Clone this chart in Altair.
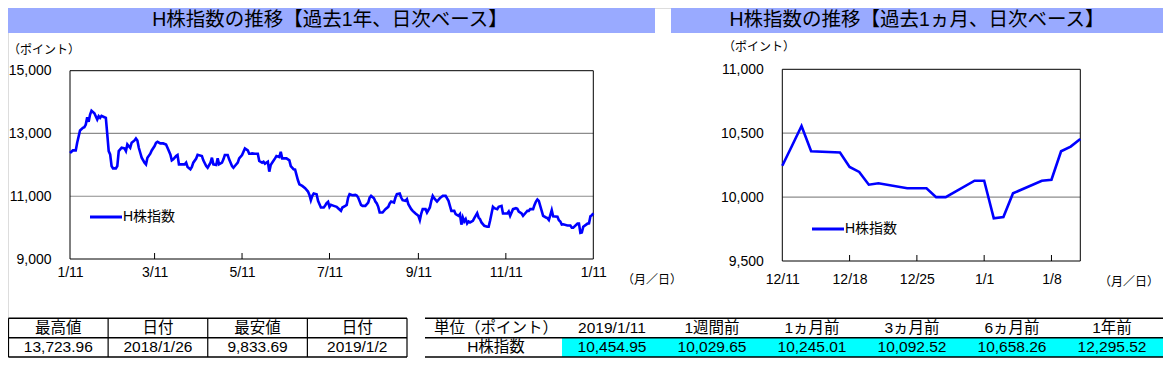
import altair as alt
import pandas as pd

# ---------------- data ----------------
dates = [
    "2018-01-11", "2018-01-13", "2018-01-15", "2018-01-16", "2018-01-18", "2018-01-20", "2018-01-21",
    "2018-01-22", "2018-01-23", "2018-01-24", "2018-01-25", "2018-01-26", "2018-01-28", "2018-01-30",
    "2018-01-31", "2018-02-01", "2018-02-02", "2018-02-04", "2018-02-05", "2018-02-06", "2018-02-07",
    "2018-02-08", "2018-02-09", "2018-02-10", "2018-02-12", "2018-02-13", "2018-02-14", "2018-02-16",
    "2018-02-18", "2018-02-19", "2018-02-20", "2018-02-22", "2018-02-23", "2018-02-25", "2018-02-26",
    "2018-02-27", "2018-02-28", "2018-03-01", "2018-03-02", "2018-03-04", "2018-03-05", "2018-03-06",
    "2018-03-08", "2018-03-09", "2018-03-11", "2018-03-12", "2018-03-13", "2018-03-15", "2018-03-17",
    "2018-03-19", "2018-03-20", "2018-03-22", "2018-03-23", "2018-03-24", "2018-03-26", "2018-03-27",
    "2018-03-28", "2018-03-30", "2018-04-01", "2018-04-02", "2018-04-03", "2018-04-05", "2018-04-06",
    "2018-04-07", "2018-04-09", "2018-04-10", "2018-04-13", "2018-04-14", "2018-04-16", "2018-04-17",
    "2018-04-19", "2018-04-20", "2018-04-21", "2018-04-23", "2018-04-24", "2018-04-25", "2018-04-27",
    "2018-04-28", "2018-04-29", "2018-05-01", "2018-05-02", "2018-05-04", "2018-05-05", "2018-05-06",
    "2018-05-08", "2018-05-09", "2018-05-11", "2018-05-12", "2018-05-13", "2018-05-15", "2018-05-16",
    "2018-05-17", "2018-05-18", "2018-05-20", "2018-05-22", "2018-05-23", "2018-05-25", "2018-05-26",
    "2018-05-27", "2018-05-29", "2018-05-30", "2018-05-31", "2018-06-01", "2018-06-03", "2018-06-04",
    "2018-06-06", "2018-06-07", "2018-06-08", "2018-06-09", "2018-06-11", "2018-06-13", "2018-06-14",
    "2018-06-16", "2018-06-17", "2018-06-19", "2018-06-20", "2018-06-22", "2018-06-24", "2018-06-26",
    "2018-06-27", "2018-06-28", "2018-06-29", "2018-06-30", "2018-07-02", "2018-07-03", "2018-07-05",
    "2018-07-07", "2018-07-08", "2018-07-09", "2018-07-10", "2018-07-11", "2018-07-12", "2018-07-14",
    "2018-07-16", "2018-07-17", "2018-07-19", "2018-07-20", "2018-07-22", "2018-07-23", "2018-07-24",
    "2018-07-25", "2018-07-27", "2018-07-29", "2018-07-30", "2018-07-31", "2018-08-02", "2018-08-03",
    "2018-08-05", "2018-08-07", "2018-08-08", "2018-08-09", "2018-08-11", "2018-08-12", "2018-08-13",
    "2018-08-14", "2018-08-15", "2018-08-17", "2018-08-19", "2018-08-21", "2018-08-22", "2018-08-23",
    "2018-08-25", "2018-08-26", "2018-08-27", "2018-08-29", "2018-08-30", "2018-08-31", "2018-09-02",
    "2018-09-03", "2018-09-04", "2018-09-06", "2018-09-07", "2018-09-09", "2018-09-11", "2018-09-12",
    "2018-09-13", "2018-09-14", "2018-09-16", "2018-09-17", "2018-09-19", "2018-09-20", "2018-09-21",
    "2018-09-22", "2018-09-24", "2018-09-26", "2018-09-27", "2018-09-28", "2018-09-30", "2018-10-02",
    "2018-10-03", "2018-10-04", "2018-10-06", "2018-10-07", "2018-10-09", "2018-10-10", "2018-10-11",
    "2018-10-12", "2018-10-13", "2018-10-14", "2018-10-15", "2018-10-16", "2018-10-17", "2018-10-19",
    "2018-10-20", "2018-10-22", "2018-10-23", "2018-10-24", "2018-10-25", "2018-10-27", "2018-10-29",
    "2018-10-30", "2018-10-31", "2018-11-02", "2018-11-03", "2018-11-05", "2018-11-06", "2018-11-08",
    "2018-11-09", "2018-11-11", "2018-11-12", "2018-11-13", "2018-11-14", "2018-11-16", "2018-11-18",
    "2018-11-19", "2018-11-20", "2018-11-22", "2018-11-23", "2018-11-25", "2018-11-26", "2018-11-27",
    "2018-11-28", "2018-11-30", "2018-12-01", "2018-12-02", "2018-12-03", "2018-12-04", "2018-12-06",
    "2018-12-07", "2018-12-09", "2018-12-10", "2018-12-11", "2018-12-12", "2018-12-13", "2018-12-14",
    "2018-12-17", "2018-12-18", "2018-12-19", "2018-12-20", "2018-12-21", "2018-12-24", "2018-12-25",
    "2018-12-26", "2018-12-27", "2018-12-28", "2018-12-31", "2019-01-01", "2019-01-02", "2019-01-03",
    "2019-01-04", "2019-01-07", "2019-01-08", "2019-01-09", "2019-01-10", "2019-01-11",
]
values = [
    12380, 12460, 12460, 12704, 13095, 13180, 13201,
    13286, 13518, 13370, 13603, 13724, 13645, 13444,
    13550, 13497, 13561, 13518, 13497, 12968, 12439,
    12333, 11963, 11889, 11889, 11963, 12439, 12545,
    12524, 12439, 12651, 12545, 12704, 12778, 12841,
    12778, 12545, 12386, 12228, 12069, 12016, 12228,
    12355, 12460, 12598, 12704, 12736, 12683, 12683,
    12651, 12545, 12333, 12143, 12175, 12281, 12312,
    12016, 12016, 12016, 12069, 11931, 11857, 11931,
    12069, 12200, 12320, 12281, 12143, 11963, 11910,
    12069, 12228, 12016, 11995, 12207, 12016, 12069,
    12175, 12312, 12312, 12175, 11963, 11910, 11963,
    12069, 12207, 12312, 12418, 12524, 12460, 12355,
    12355, 12365, 12355, 12355, 12122, 12069, 12101,
    12037, 12101, 11783, 11995, 12069, 12207, 12281,
    12249, 12418, 12207, 12207, 12207, 12143, 11963,
    11857, 11847, 11508, 11381, 11328, 11254, 11149,
    11043, 10873, 11011, 11085, 11064, 10852, 10641,
    10641, 10704, 10780, 10820, 10658, 10725, 10693,
    10662, 10619, 10535, 10641, 10693, 10725, 10958,
    11064, 11032, 11043, 11021, 10958, 10725, 10693,
    10693, 10799, 10958, 11011, 10937, 10831, 10768,
    10662, 10482, 10482, 10588, 10662, 10768, 10831,
    10799, 10958, 11064, 11085, 10958, 10873, 10852,
    10905, 10746, 10588, 10535, 10450, 10376, 10239,
    10450, 10588, 10588, 10482, 10641, 10852, 11011,
    10937, 10831, 10937, 10979, 11011, 11011, 10852,
    10693, 10535, 10535, 10429, 10376, 10429, 10093,
    10323, 10196, 10270, 10133, 10196, 10165, 10217,
    10302, 10461, 10323, 10270, 10165, 10059, 10027,
    10027, 10217, 10662, 10619, 10588, 10662, 10693,
    10450, 10450, 10450, 10514, 10376, 10588, 10619,
    10598, 10514, 10450, 10376, 10482, 10535, 10535,
    10588, 10588, 10725, 10831, 10895, 10852, 10535,
    10376, 10323, 10302, 10245, 10400, 10556, 10359,
    10349, 10236, 10197, 10097, 10108, 10069, 10069,
    10069, 10000, 10000, 10128, 10128, 9834, 9844,
    10030, 10128, 10136, 10359, 10395, 10455,
]
series_name = "H株指数"

year_ticks = ["2018-01-11", "2018-03-11", "2018-05-11", "2018-07-11", "2018-09-11", "2018-11-11", "2019-01-11"]
year_inner_ticks = ["2018-03-11", "2018-05-11", "2018-07-11", "2018-09-11", "2018-11-11"]
year_y_ticks = [9000, 11000, 13000, 15000]
year_grid = [11000, 13000]

month_ticks = ["2018-12-11", "2018-12-18", "2018-12-25", "2019-01-01", "2019-01-08"]
month_inner_ticks = ["2018-12-18", "2018-12-25", "2019-01-01", "2019-01-08"]
month_y_ticks = [9500, 10000, 10500, 11000]
month_grid = [10000, 10500]

title_year = "H株指数の推移【過去1年、日次ベース】"
title_month = "H株指数の推移【過去1ヵ月、日次ベース】"
unit_label = "（ポイント）"
date_label = "（月／日）"

t1_headers = ["最高値", "日付", "最安値", "日付"]
t1_values = ["13,723.96", "2018/1/26", "9,833.69", "2019/1/2"]

t2_headers = ["単位（ポイント）", "2019/1/11", "1週間前", "1ヵ月前", "3ヵ月前", "6ヵ月前", "1年前"]
t2_values = ["H株指数", "10,454.95", "10,029.65", "10,245.01", "10,092.52", "10,658.26", "12,295.52"]

# ---------------- layout / style ----------------
W, H = 1155, 350
FONT = "Liberation Sans, Noto Sans CJK JP"
BLUE = "#0000FF"
BAND = "#99AAFF"
GRID = "#8C8C8C"

LX0, LX1, LYT, LYB = 62, 585.3, 62.7, 251
RX0, RX1, RYT, RYB = 774.3, 1072.3, 61.3, 253

df = pd.DataFrame({"date": pd.to_datetime(dates), "value": values})
mdf = df[df["date"] >= pd.Timestamp("2018-12-11")]


def dt(s):
    t = pd.Timestamp(s)
    return alt.DateTime(year=t.year, month=t.month, date=t.day)


one = pd.DataFrame({"k": [0]})


def panel(data, x0, x1, yt, yb, dom, ticks, inner, yticks, grid, ydom, xpad):
    x_enc = alt.X(
        "date:T",
        scale=alt.Scale(domain=[dt(dom[0]), dt(dom[1])], range=[x0, x1], nice=False),
        axis=alt.Axis(values=[dt(t) for t in ticks], format="%-m/%-d", orient="bottom",
                      offset=yb - H, domain=False, ticks=False, tickSize=0, grid=False,
                      labelPadding=xpad, labelFlush=False, labelOverlap=False, title=None,
                      labelFont=FONT, labelFontSize=14, labelColor="black"),
    )
    y_enc = alt.Y(
        "value:Q",
        scale=alt.Scale(domain=ydom, range=[yb, yt], nice=False, zero=False),
        axis=alt.Axis(values=yticks, format=",d", orient="left", offset=-x0,
                      domain=False, ticks=False, tickSize=0, grid=False,
                      labelPadding=19, title=None, labelFont=FONT, labelFontSize=14,
                      labelColor="black"),
    )
    grid_df = pd.DataFrame({"value": grid})
    tick_df = pd.DataFrame({"date": pd.to_datetime(inner)})
    gridl = alt.Chart(grid_df).mark_rule(color=GRID, strokeWidth=1.2).encode(
        y=y_enc, x=alt.value(x0), x2=alt.value(x1))
    tickl = alt.Chart(tick_df).mark_rule(color="black", strokeWidth=1).encode(
        x=x_enc, y=alt.value(yb - 6), y2=alt.value(yb))
    frame = alt.Chart(one).mark_rect(filled=False, stroke="black", strokeWidth=1).encode(
        x=alt.value(x0), x2=alt.value(x1), y=alt.value(yt), y2=alt.value(yb))
    line = alt.Chart(data).mark_line(color=BLUE, strokeWidth=2.6).encode(x=x_enc, y=y_enc)
    return alt.layer(gridl, tickl, frame, line)


left = panel(df, LX0, LX1, LYT, LYB, ("2018-01-11", "2019-01-11"), year_ticks, year_inner_ticks,
             year_y_ticks, year_grid, [9000, 15000], 6)
right = panel(mdf, RX0, RX1, RYT, RYB, ("2018-12-11", "2019-01-11"), month_ticks, month_inner_ticks,
              month_y_ticks, month_grid, [9500, 11000], 11)


def txt(s, x, y, size=14, align="center", weight="normal"):
    return alt.Chart(one).mark_text(text=s, font=FONT, fontSize=size, align=align,
                                    baseline="middle", color="black", fontWeight=weight).encode(
        x=alt.value(x), y=alt.value(y))


def band(x0, x1):
    return alt.Chart(one).mark_rect(color=BAND).encode(
        x=alt.value(x0), x2=alt.value(x1), y=alt.value(0), y2=alt.value(25))


def legend(x0, y):
    seg = alt.Chart(one).mark_rule(color=BLUE, strokeWidth=3).encode(
        x=alt.value(x0), x2=alt.value(x0 + 32), y=alt.value(y))
    return alt.layer(seg, txt(series_name, x0 + 33, y, 14, "left"))


deco = alt.layer(
    band(0, 647), band(663, W),
    txt(title_year, 322, 12, 19.5), txt(title_month, 909, 12, 19.5),
    txt(unit_label, 0, 42, 12, "left"), txt(unit_label, 715, 39, 12, "left"),
    txt(date_label, 614, 272, 12, "left"), txt(date_label, 1091, 274, 12, "left"),
    legend(82, 209), legend(804, 221),
)

# ---------------- tables ----------------
ROW_Y = dict(domain=[0, 2], range=[310.3, 349])

t1_cells = pd.DataFrame({
    "col": [i + 0.5 for i in range(4)] * 2,
    "row": [0.5] * 4 + [1.5] * 4,
    "label": t1_headers + t1_values,
})
t1x = alt.Scale(domain=[0, 4], range=[0.5, 399])
t1y = alt.Scale(**ROW_Y)
t1_h = pd.DataFrame({"row": [0, 1, 2], "c0": [0, 0, 0], "c1": [4, 4, 4]})
t1_v = pd.DataFrame({"col": [0, 1, 2, 3, 4], "r0": [0] * 5, "r1": [2] * 5})
table1 = alt.layer(
    alt.Chart(t1_h).mark_rule(color="black", strokeWidth=1.5).encode(
        x=alt.X("c0:Q", scale=t1x, axis=None), x2="c1:Q", y=alt.Y("row:Q", scale=t1y, axis=None)),
    alt.Chart(t1_v).mark_rule(color="black", strokeWidth=1.2).encode(
        x=alt.X("col:Q", scale=t1x, axis=None), y=alt.Y("r0:Q", scale=t1y, axis=None), y2="r1:Q"),
    alt.Chart(t1_cells).mark_text(font=FONT, fontSize=15.5, color="black", baseline="middle").encode(
        x=alt.X("col:Q", scale=t1x, axis=None), y=alt.Y("row:Q", scale=t1y, axis=None), text="label:N"),
)

LABEL_START, LABEL_CENTER, T2_END = -1.37, -0.66, 6.03
t2_cells = pd.DataFrame({
    "col": ([LABEL_CENTER] + [i + 0.5 for i in range(6)]) * 2,
    "row": [0.5] * 7 + [1.5] * 7,
    "label": t2_headers + t2_values,
})
t2x = alt.Scale(domain=[0, 6], range=[554, 1154])
t2y = alt.Scale(**ROW_Y)
t2_h = pd.DataFrame({"row": [0, 1, 2], "c0": [LABEL_START] * 3, "c1": [T2_END] * 3})
t2_fill = pd.DataFrame({"c0": [0], "c1": [T2_END], "r0": [1], "r1": [2]})
table2 = alt.layer(
    alt.Chart(t2_fill).mark_rect(color="#00FFFF").encode(
        x=alt.X("c0:Q", scale=t2x, axis=None), x2="c1:Q",
        y=alt.Y("r0:Q", scale=t2y, axis=None), y2="r1:Q"),
    alt.Chart(t2_h).mark_rule(color="black", strokeWidth=1.5).encode(
        x=alt.X("c0:Q", scale=t2x, axis=None), x2="c1:Q", y=alt.Y("row:Q", scale=t2y, axis=None)),
    alt.Chart(t2_cells).mark_text(font=FONT, fontSize=15.5, color="black", baseline="middle").encode(
        x=alt.X("col:Q", scale=t2x, axis=None), y=alt.Y("row:Q", scale=t2y, axis=None), text="label:N"),
)

chart = alt.layer(left, right, table1, table2, deco).resolve_scale(
    x="independent", y="independent"
).properties(
    width=W, height=H, padding=0, autosize=alt.AutoSizeParams(type="none")
).configure_view(stroke=None).configure(background="white")

chart.save("out.html", embed_options={"renderer": "svg", "actions": False})
